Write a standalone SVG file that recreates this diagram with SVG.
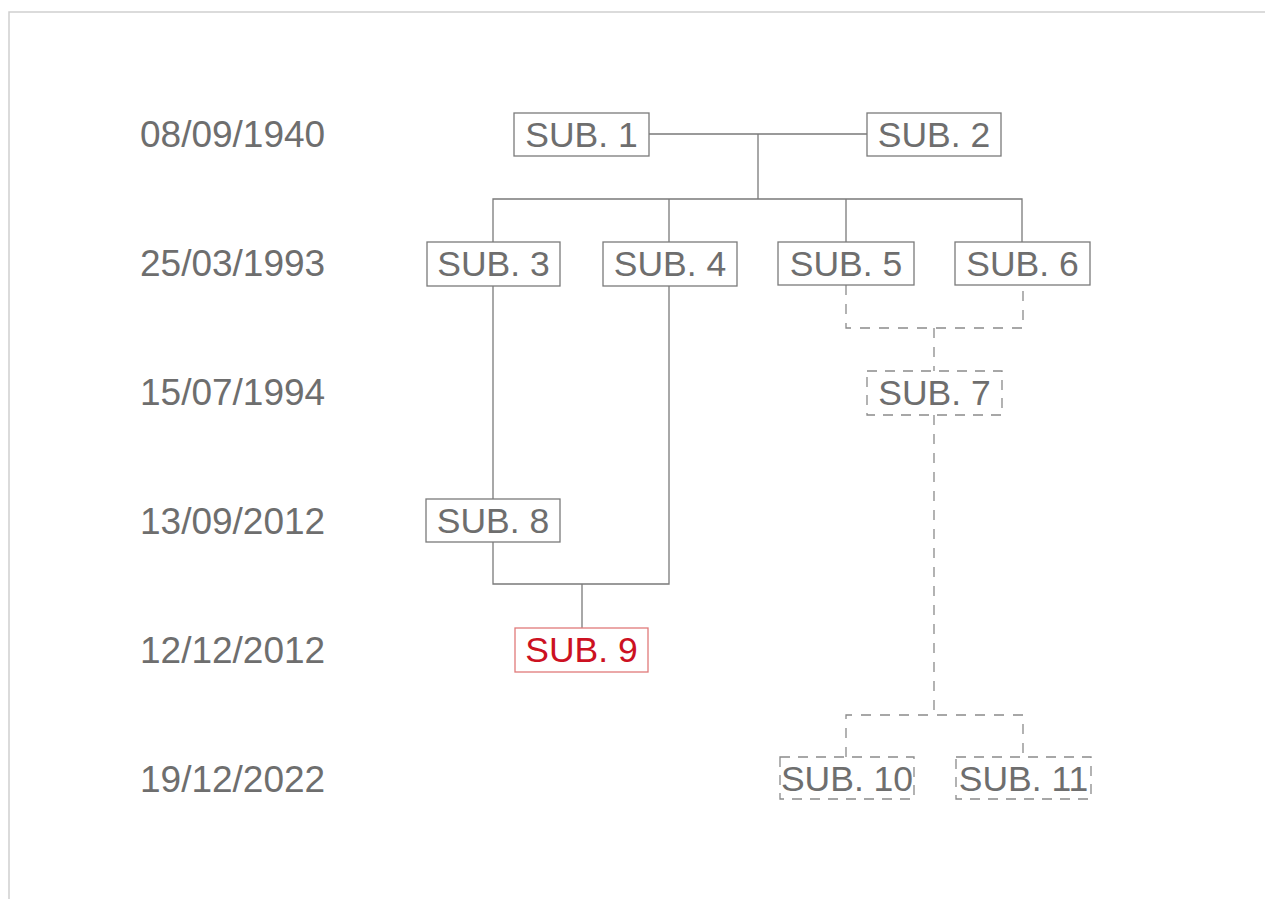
<svg xmlns="http://www.w3.org/2000/svg" width="1265" height="899" viewBox="0 0 1265 899">
<style>
.bg{fill:#ffffff}
.frame{stroke:#cfcfcf;stroke-width:1.5;fill:none}
.date{font-family:"Liberation Sans",Arial,sans-serif;font-size:37px;fill:#6e6e6e}
.lbl{font-family:"Liberation Sans",Arial,sans-serif;font-size:35.5px;fill:#6e6e6e;text-anchor:middle}
.box{fill:#ffffff;stroke:#7a7a7a;stroke-width:1.3}
.dbox{fill:#ffffff;stroke:#8a8a8a;stroke-width:1.3;stroke-dasharray:10 8}
.red .box{stroke:#e07a7a}
.red .lbl{fill:#cc1122}
.ln{fill:none;stroke:#7a7a7a;stroke-width:1.3}
.dln{fill:none;stroke:#8a8a8a;stroke-width:1.3;stroke-dasharray:10 9}
</style>
<rect class="bg" x="0" y="0" width="1265" height="899"/>
<path class="frame" d="M9,899 V12 H1265"/>
<g id="dates">
<text class="date" x="140" y="147">08/09/1940</text>
<text class="date" x="140" y="276">25/03/1993</text>
<text class="date" x="140" y="405">15/07/1994</text>
<text class="date" x="140" y="534">13/09/2012</text>
<text class="date" x="140" y="663">12/12/2012</text>
<text class="date" x="140" y="792">19/12/2022</text>
</g>
<g id="connectors">
<path class="ln" d="M649,134 H867 M758,134 V199 M493,242 V199 H1022 V242 M669,199 V242 M846,199 V242"/>
<path class="ln" d="M493,286 V499 M493,542 V584 H669 V286 M582,584 V628"/>
<path class="dln" d="M846,285 V328 H1023 V285 M934,328 V371 M934,415 V715 M846,757 V715 H1023 V757"/>
</g>
<g id="sub1"><rect class="box" x="514" y="113" width="135" height="43"/><text class="lbl" x="581.5" y="147">SUB. 1</text></g>
<g id="sub2"><rect class="box" x="867" y="113" width="134" height="43"/><text class="lbl" x="934" y="147">SUB. 2</text></g>
<g id="sub3"><rect class="box" x="427" y="242" width="133" height="44"/><text class="lbl" x="493.5" y="276">SUB. 3</text></g>
<g id="sub4"><rect class="box" x="603" y="242" width="134" height="44"/><text class="lbl" x="670" y="276">SUB. 4</text></g>
<g id="sub5"><rect class="box" x="778" y="242" width="136" height="43"/><text class="lbl" x="846" y="276">SUB. 5</text></g>
<g id="sub6"><rect class="box" x="955" y="242" width="135" height="43"/><text class="lbl" x="1022.5" y="276">SUB. 6</text></g>
<g id="sub7"><rect class="dbox" x="867" y="371" width="135" height="44"/><text class="lbl" x="934.5" y="405">SUB. 7</text></g>
<g id="sub8"><rect class="box" x="426" y="499" width="134" height="43"/><text class="lbl" x="493" y="533">SUB. 8</text></g>
<g id="sub9" class="red"><rect class="box" x="515" y="628" width="133" height="44"/><text class="lbl" x="581.5" y="662">SUB. 9</text></g>
<g id="sub10"><rect class="dbox" x="780" y="757" width="134" height="42"/><text class="lbl" x="847" y="791">SUB. 10</text></g>
<g id="sub11"><rect class="dbox" x="956" y="757" width="135" height="42"/><text class="lbl" x="1023.5" y="791">SUB. 11</text></g>
</svg>
